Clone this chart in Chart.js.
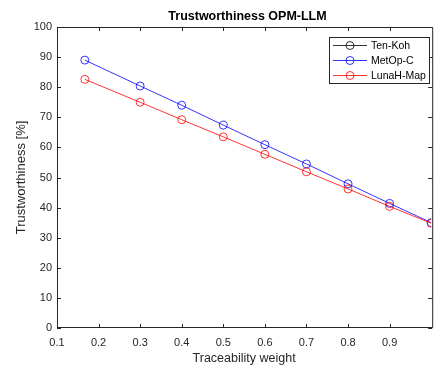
<!DOCTYPE html><html lang="en"><head>
    <meta charset="UTF-8">
    <title>Trustworthiness OPM-LLM</title>
    <script src="https://cdn.jsdelivr.net/npm/chart.js@4"></script>
    <style>
      body { margin: 0; background: #fff; }
    </style>
  </head>
  <body>
    <canvas id="myChart" width="436" height="365"></canvas>

    <script>
      // values
      const chartTitle = 'Trustworthiness OPM-LLM';
      const weights = [0.167, 0.3, 0.4, 0.5, 0.6, 0.7, 0.8, 0.9, 1.0];
      // Ten-Koh lies exactly under MetOp-C, so it is never seen in the figure
      const tenKoh = [89.0, 80.4, 74.0, 67.4, 60.9, 54.5, 47.9, 41.4, 35.0];
      const metOpC = [89.0, 80.4, 74.0, 67.4, 60.9, 54.5, 47.9, 41.4, 35.0];
      const lunaHMap = [82.6, 75.0, 69.2, 63.5, 57.7, 51.9, 46.2, 40.4, 34.8];
      const xTickLabels = ['0.1', '0.2', '0.3', '0.4', '0.5', '0.6', '0.7', '0.8', '0.9'];
      const yTickLabels = ['0', '10', '20', '30', '40', '50', '60', '70', '80', '90', '100'];

      const axisColor = '#262626';
      const fontFamily = '"Liberation Sans", Arial, sans-serif';

      function series(label, ys, color, order) {
        return {
          label: label,
          order: order,
          data: weights.map((x, i) => ({ x: x, y: ys[i] })),
          borderColor: color,
          backgroundColor: 'rgba(0,0,0,0)',
          borderWidth: 0.8,
          pointRadius: 4,
          pointBorderWidth: 0.8,
          pointBackgroundColor: 'rgba(0,0,0,0)',
          pointBorderColor: color,
          tension: 0
        };
      }

      // MATLAB-like box, inward ticks, title and legend
      const matlabLook = {
        id: 'matlabLook',
        afterDraw(chart) {
          const { ctx, chartArea: a, scales } = chart;
          ctx.save();
          ctx.strokeStyle = axisColor;
          ctx.lineWidth = 1;
          ctx.beginPath();
          // the right edge of the axes falls just outside the picture
          ctx.rect(a.left + 0.5, a.top + 0.5, a.right + 1 - a.left, a.bottom - a.top - 1);
          const len = 4;
          scales.x.ticks.forEach(t => {
            const px = Math.round(scales.x.getPixelForValue(t.value)) + 0.5;
            ctx.moveTo(px, a.bottom); ctx.lineTo(px, a.bottom - len);
            ctx.moveTo(px, a.top); ctx.lineTo(px, a.top + len);
          });
          scales.y.ticks.forEach(t => {
            const py = Math.round(scales.y.getPixelForValue(t.value)) + 0.5;
            ctx.moveTo(a.left, py); ctx.lineTo(a.left + len, py);
            ctx.moveTo(a.right + 1, py); ctx.lineTo(a.right + 1 - len, py);
          });
          ctx.stroke();

          // title centred on the axes
          ctx.fillStyle = '#000';
          ctx.font = 'bold 12.5px ' + fontFamily;
          ctx.textAlign = 'center';
          ctx.textBaseline = 'middle';
          ctx.fillText(chartTitle, (a.left + 438) / 2, 17);

          // legend box
          const bx = 329.5, by = 37.5, bw = 100, bh = 46;
          ctx.fillStyle = '#fff';
          ctx.fillRect(bx, by, bw, bh);
          ctx.strokeStyle = axisColor;
          ctx.strokeRect(bx, by, bw, bh);
          ctx.font = '10.5px ' + fontFamily;
          ctx.textAlign = 'left';
          ctx.lineWidth = 0.8;
          chart.data.datasets.forEach((ds, i) => {
            const cy = 45.5 + i * 15;
            ctx.strokeStyle = ds.borderColor;
            ctx.beginPath();
            ctx.moveTo(333, cy); ctx.lineTo(367, cy);
            ctx.stroke();
            ctx.beginPath();
            ctx.arc(350, cy, 4, 0, Math.PI * 2);
            ctx.stroke();
            ctx.fillStyle = '#000';
            ctx.fillText(ds.label, 371, cy + 0.5);
          });
          ctx.restore();
        }
      };

      const tenKohSeries = series('Ten-Koh', tenKoh, '#000000', 3);
      // fully covered by the MetOp-C line in the reference
      tenKohSeries.hidden = true;

      const ctx = document.getElementById('myChart').getContext('2d');
      const myChart = new Chart(ctx, {
        type: 'line',
        data: {
          datasets: [
            tenKohSeries,
            series('MetOp-C', metOpC, '#0000ff', 2),
            series('LunaH-Map', lunaHMap, '#ff0000', 1)
          ]
        },
        options: {
          responsive: false,
          animation: false,
          layout: { padding: { top: 27, right: 0, bottom: 0, left: 0 } },
          plugins: {
            legend: { display: false },
            title: { display: false },
            tooltip: { enabled: false }
          },
          scales: {
            x: {
              type: 'linear',
              min: 0.1,
              max: 1.0,
              grid: { display: false, drawTicks: false, tickLength: 0 },
              border: { display: false },
              afterFit: s => { s.height = 37; },
              afterBuildTicks: s => { s.ticks = xTickLabels.map(v => ({ value: parseFloat(v) })); },
              ticks: {
                padding: 8,
                maxRotation: 0,
                autoSkip: false,
                color: axisColor,
                font: { family: fontFamily, size: 11 },
                callback: (v, i) => xTickLabels[i]
              },
              title: {
                display: true,
                text: 'Traceability weight',
                color: axisColor,
                font: { family: fontFamily, size: 12.5 },
                padding: { top: 0, bottom: -1 }
              }
            },
            y: {
              min: 0,
              max: 100,
              grid: { display: false, drawTicks: false, tickLength: 0 },
              border: { display: false },
              afterFit: s => { s.width = 57; },
              afterBuildTicks: s => { s.ticks = yTickLabels.map(v => ({ value: parseFloat(v) })); },
              ticks: {
                padding: 5,
                autoSkip: false,
                color: axisColor,
                font: { family: fontFamily, size: 11 },
                callback: (v, i) => yTickLabels[i]
              },
              title: {
                display: true,
                text: 'Trustworthiness [%]',
                color: axisColor,
                font: { family: fontFamily, size: 13 },
                padding: { top: 14, bottom: 0 }
              }
            }
          }
        },
        plugins: [matlabLook]
      });
    </script>
  
</body></html>
